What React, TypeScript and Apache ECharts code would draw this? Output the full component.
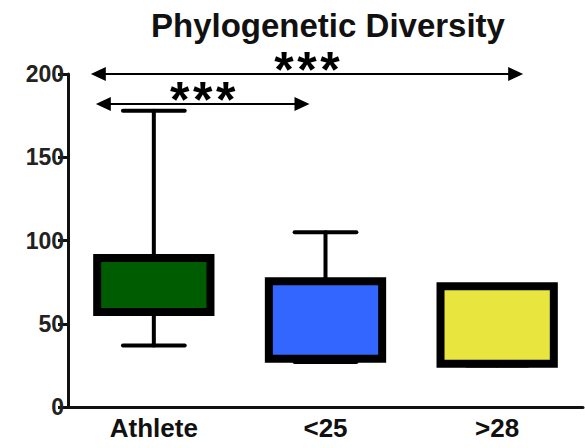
import React, { useEffect, useRef } from "react";
import * as echarts from "echarts";

const categories = ["Athlete", "<25", ">28"];
const whiskerMin = [37, 27, 25];
const q1 = [57, 29, 26];
const q3 = [89.5, 75.5, 72.5];
const whiskerMax = [178, 105, 72.5];
const boxColors = ["#005C00", "#3366FF", "#E8E63E"];
const yTicks = { min: 0, max: 200, interval: 50 };
// significance brackets: [fromCategoryIndex, toCategoryIndex, yValue, label]
const sigFrom = [0, 0];
const sigTo = [2, 1];
const sigY = [200, 182];
const sigLabels = ["***", "***"];

const FONT = "'Liberation Sans', Arial, Helvetica, sans-serif";

export default function App() {
  const ref = useRef<HTMLDivElement>(null);
  useEffect(() => {
    if (!ref.current) return;
    const chart = echarts.init(ref.current, null, { renderer: "svg" });
    const data = categories.map((_, i) => [i, whiskerMin[i], q1[i], q3[i], whiskerMax[i]]);
    chart.setOption({
      animation: false,
      title: {
        text: "Phylogenetic Diversity",
        left: 146,
        top: 4,
        textStyle: { fontFamily: FONT, fontSize: 33, fontWeight: "bold", color: "#111" },
      },
      grid: { left: 68, right: 2, top: 74, bottom: 41 },
      xAxis: {
        type: "category",
        data: categories,
        axisLine: { lineStyle: { color: "#111", width: 3 } },
        axisTick: { alignWithLabel: true, length: 6, lineStyle: { width: 3, color: "#111" } },
        axisLabel: { fontFamily: FONT, fontSize: 26, fontWeight: "bold", color: "#111", margin: 8 },
      },
      yAxis: {
        type: "value",
        min: yTicks.min,
        max: yTicks.max,
        interval: yTicks.interval,
        splitLine: { show: false },
        axisLine: { show: true, lineStyle: { color: "#111", width: 3 } },
        axisTick: { show: true, length: 10, lineStyle: { width: 3, color: "#111" } },
        axisLabel: { fontFamily: FONT, fontSize: 23, fontWeight: "bold", color: "#222", margin: 4 },
      },
      series: [
        {
          type: "custom",
          data,
          encode: { x: 0, y: [1, 2, 3, 4] },
          renderItem: (params: any, api: any) => {
            const idx = api.value(0);
            const band = api.size([1, 0])[0];
            const boxW = band * 0.66;
            const capW = band * 0.36;
            const pMin = api.coord([idx, api.value(1)]);
            const pQ1 = api.coord([idx, api.value(2)]);
            const pQ3 = api.coord([idx, api.value(3)]);
            const pMax = api.coord([idx, api.value(4)]);
            const cx = pMin[0];
            const lineStyle = { stroke: "#000", lineWidth: 4, lineCap: "round" };
            return {
              type: "group",
              children: [
                { type: "line", shape: { x1: cx, y1: pMax[1], x2: cx, y2: pMin[1] }, style: lineStyle },
                { type: "line", shape: { x1: cx - capW / 2, y1: pMax[1], x2: cx + capW / 2, y2: pMax[1] }, style: lineStyle },
                { type: "line", shape: { x1: cx - capW / 2, y1: pMin[1], x2: cx + capW / 2, y2: pMin[1] }, style: lineStyle },
                {
                  type: "rect",
                  shape: { x: cx - boxW / 2, y: pQ3[1], width: boxW, height: pQ1[1] - pQ3[1] },
                  style: { fill: boxColors[idx], stroke: "#000", lineWidth: 8 },
                },
              ],
            };
          },
        },
      ],
    });

    const graphics: any[] = [];
    const leftPad = [63, 58];
    const rightPad = [26, -16];
    const starGap = 23;
    for (let k = 0; k < sigFrom.length; k++) {
      const a = chart.convertToPixel({ xAxisIndex: 0, yAxisIndex: 0 }, [sigFrom[k], sigY[k]]) as number[];
      const b = chart.convertToPixel({ xAxisIndex: 0, yAxisIndex: 0 }, [sigTo[k], sigY[k]]) as number[];
      const x1 = a[0] - leftPad[k];
      const x2 = b[0] + rightPad[k];
      const y = a[1];
      const hl = 15;
      const hh = 7;
      graphics.push({ type: "line", shape: { x1: x1 + hl - 2, y1: y, x2: x2 - hl + 2, y2: y }, style: { stroke: "#000", lineWidth: 2 } });
      graphics.push({ type: "polygon", shape: { points: [[x1, y], [x1 + hl, y - hh], [x1 + hl, y + hh]] }, style: { fill: "#000" } });
      graphics.push({ type: "polygon", shape: { points: [[x2, y], [x2 - hl, y - hh], [x2 - hl, y + hh]] }, style: { fill: "#000" } });
      const chars = sigLabels[k].split("");
      const mid = (x1 + x2) / 2;
      chars.forEach((ch, j) => {
        graphics.push({
          type: "text",
          x: mid + (j - (chars.length - 1) / 2) * starGap,
          y: y - 4,
          style: {
            text: ch,
            fontFamily: FONT,
            fontSize: 50,
            fontWeight: "bold",
            fill: "#000",
            align: "center",
            verticalAlign: "middle",
          },
        });
      });
    }
    chart.setOption({ graphic: graphics });
    return () => chart.dispose();
  }, []);
  return <div ref={ref} style={{ width: 585, height: 448, position: "absolute", left: 0, top: 0 }} />;
}
